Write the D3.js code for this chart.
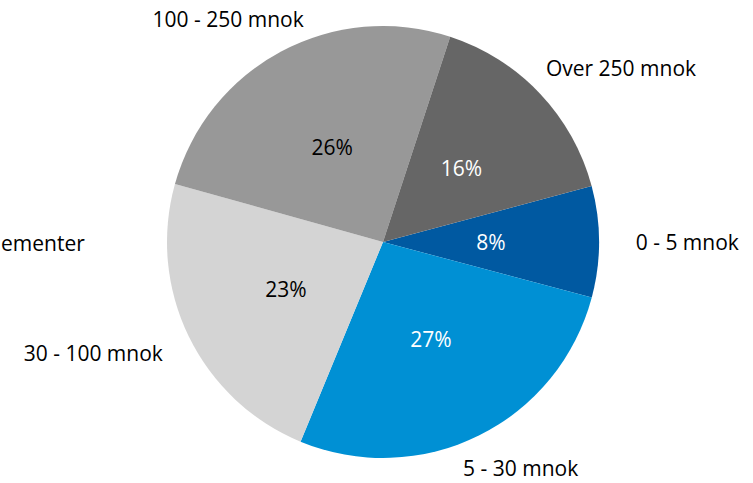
<!DOCTYPE html>
<html>
<head>
<meta charset="utf-8">
<script src="https://cdn.jsdelivr.net/npm/d3@7"></script>
<style>
  html, body { margin: 0; padding: 0; background: #fff; }
  svg { display: block; }
  text { font-family: "Open Sans", "Noto Sans", sans-serif; font-size: 21px; }
</style>
</head>
<body>
<svg id="chart" width="753" height="483"></svg>
<script>
const categories = ["0 - 5 mnok", "5 - 30 mnok", "30 - 100 mnok", "100 - 250 mnok", "Over 250 mnok"];
const values = [8.3, 27.1, 23.1, 25.7, 15.8];
const colors = ["#0059A1", "#0090D4", "#D4D4D4", "#989898", "#666666"];
const labelColors = ["#ffffff", "#ffffff", "#000000", "#000000", "#ffffff"];
const title = "ementer"; // visible part of the (cut) title "Segmenter"

const W = 753, H = 483;
const cx = 383, cy = 242, r = 216;
const svg = d3.select("#chart");

const total = d3.sum(values);
const data = categories.map((c, i) => ({ cat: c, value: values[i], color: colors[i], lc: labelColors[i] }));

const startA = (75 / 180) * Math.PI;
const pie = d3.pie().value(d => d.value).sort(null)
  .startAngle(startA).endAngle(startA + 2 * Math.PI);
const arcs = pie(data);
const arc = d3.arc().innerRadius(0).outerRadius(r);

const g = svg.append("g").attr("transform", `translate(${cx},${cy})`);
g.selectAll("path.slice").data(arcs).enter().append("path")
  .attr("class", "slice")
  .attr("d", arc)
  .attr("fill", d => d.data.color);

// percentage labels at centroid
g.selectAll("text.pct").data(arcs).enter().append("text")
  .attr("class", "pct")
  .attr("x", d => arc.centroid(d)[0])
  .attr("y", d => arc.centroid(d)[1])
  .attr("text-anchor", "middle")
  .attr("dominant-baseline", "central")
  .attr("fill", d => d.data.lc)
  .text(d => Math.round(d.data.value / total * 100) + "%");

// category labels outside
const R = r * 1.17;
g.selectAll("text.cat").data(arcs).enter().append("text")
  .attr("class", "cat")
  .attr("dominant-baseline", "central")
  .attr("fill", "#000")
  .text(d => d.data.cat)
  .each(function(d) {
    const a = (d.startAngle + d.endAngle) / 2;
    const px = R * Math.sin(a), py = -R * Math.cos(a);
    const w = this.getComputedTextLength();
    const frac = 0.5 - 0.5 * Math.sin(a);
    d3.select(this).attr("x", px - w * frac).attr("y", py);
  });

// title fragment at left edge
svg.append("text")
  .attr("x", 1).attr("y", 251)
  .attr("text-anchor", "start")
  .attr("fill", "#000")
  .text(title);
</script>
</body>
</html>
